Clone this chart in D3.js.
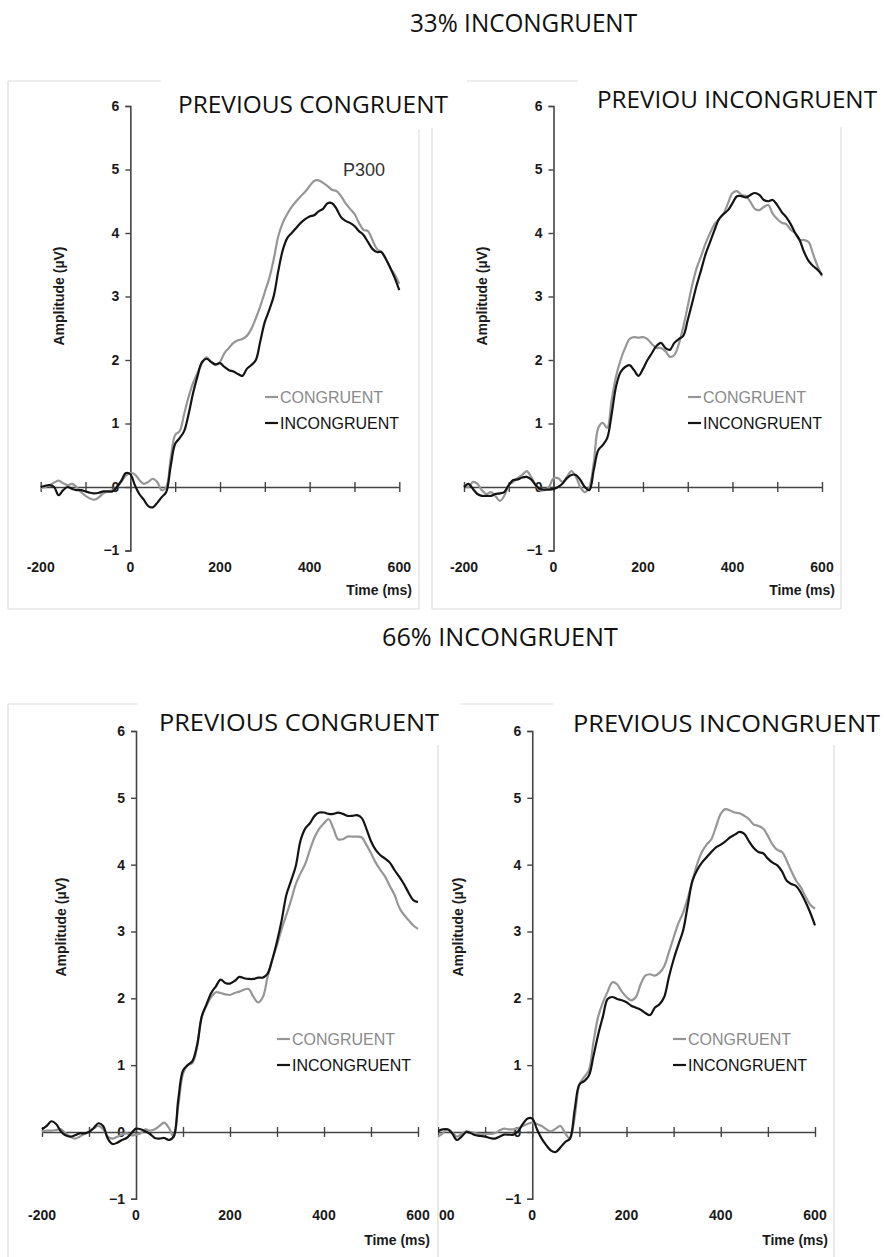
<!DOCTYPE html>
<html>
<head>
<meta charset="utf-8">
<title>P300 congruency sequence</title>
<script src="https://cdnjs.cloudflare.com/ajax/libs/d3/7.8.5/d3.min.js"></script>
<style>
  body { margin: 0; background: #fff; }
  svg text { font-family: "Liberation Sans", Arial, sans-serif; }
  .big { font-family: "Open Sans", "Noto Sans", sans-serif !important; }
</style>
</head>
<body>
<div id="chart"></div>
<script>
var W = 884, H = 1257;

// sampling grid, ms (every 10 ms, -200..600)
var times = d3.range(-200, 601, 10);
var xTicks = [-200, -100, 0, 100, 200, 300, 400, 500, 600];
var xLabels = [-200, 0, 200, 400, 600];
var yTicks = [-1, 0, 1, 2, 3, 4, 5, 6];
var seriesNames = ["CONGRUENT", "INCONGRUENT"];
var blockTitles = ["33% INCONGRUENT", "66% INCONGRUENT"];
var panelTitles = ["PREVIOUS CONGRUENT", "PREVIOU INCONGRUENT", "PREVIOUS CONGRUENT", "PREVIOUS INCONGRUENT"];

// 33% incongruent, previous congruent (amplitude, µV)
var c33pc = [-0.02,0.0,0.03,0.07,0.1,0.06,0.03,0.05,0.0,-0.08,-0.14,-0.18,-0.2,-0.16,-0.1,-0.07,-0.05,0.0,0.08,0.18,
  0.22,0.2,0.11,0.05,0.08,0.13,0.08,-0.05,0.0,0.45,0.82,0.88,1.15,1.42,1.64,1.8,1.95,2.04,1.97,1.92,
  1.97,2.11,2.19,2.27,2.31,2.33,2.38,2.49,2.66,2.85,3.07,3.29,3.59,3.95,4.16,4.3,4.41,4.5,4.58,4.65,
  4.74,4.82,4.83,4.79,4.74,4.68,4.66,4.58,4.47,4.38,4.3,4.16,4.05,4.03,3.89,3.75,3.7,3.59,3.45,3.34,3.2];
var i33pc = [0.0,0.02,0.03,0.0,-0.13,-0.05,0.0,-0.03,-0.05,-0.05,-0.07,-0.09,-0.1,-0.09,-0.07,-0.07,-0.07,0.0,0.1,0.22,
  0.2,0.03,-0.11,-0.2,-0.3,-0.32,-0.25,-0.16,-0.08,0.33,0.68,0.77,0.88,1.15,1.48,1.75,1.97,2.02,1.97,1.93,
  1.95,1.89,1.84,1.82,1.78,1.75,1.86,1.92,2.0,2.3,2.6,2.79,3.01,3.4,3.73,3.92,4.0,4.08,4.16,4.22,
  4.26,4.28,4.34,4.38,4.47,4.47,4.38,4.25,4.19,4.16,4.11,4.03,3.97,3.86,3.75,3.7,3.7,3.59,3.45,3.29,3.1];

// 33% incongruent, previous incongruent
var c33pi = [0.03,0.0,0.08,0.05,-0.05,-0.11,-0.08,-0.14,-0.22,-0.14,0.03,0.08,0.14,0.19,0.25,0.16,0.03,-0.05,-0.05,0.0,
  0.14,0.14,0.08,0.16,0.25,0.16,0.0,-0.08,0.0,0.38,0.93,1.01,0.93,1.37,1.75,2.0,2.19,2.33,2.36,2.35,
  2.36,2.33,2.25,2.19,2.19,2.14,2.05,2.08,2.25,2.52,2.85,3.18,3.45,3.64,3.84,4.0,4.14,4.22,4.3,4.47,
  4.63,4.66,4.6,4.58,4.49,4.38,4.36,4.41,4.44,4.3,4.22,4.16,4.14,4.05,4.0,3.89,3.89,3.86,3.67,3.48,3.32];
var i33pi = [0.0,0.05,-0.03,-0.11,-0.14,-0.14,-0.14,-0.11,-0.1,-0.08,0.03,0.11,0.12,0.15,0.16,0.12,0.03,-0.03,-0.04,-0.04,
  -0.03,0.0,0.05,0.14,0.19,0.19,0.11,0.0,-0.05,0.27,0.58,0.66,0.77,1.15,1.59,1.81,1.89,1.92,1.84,1.75,
  1.86,2.0,2.11,2.22,2.27,2.19,2.16,2.27,2.33,2.38,2.63,2.9,3.18,3.42,3.67,3.86,4.05,4.22,4.3,4.36,
  4.47,4.58,4.58,4.56,4.6,4.63,4.6,4.52,4.5,4.52,4.44,4.33,4.25,4.14,4.0,3.89,3.7,3.56,3.48,3.42,3.34];

// 66% incongruent, previous congruent
var c66pc = [0.01,0.02,0.02,0.03,0.04,-0.02,-0.07,-0.1,-0.07,-0.03,0.0,0.05,0.09,0.04,-0.07,-0.1,-0.07,-0.04,-0.02,-0.05,
  -0.04,-0.02,0.04,0.02,0.04,0.09,0.14,0.06,-0.07,0.39,0.87,1.0,1.03,1.27,1.73,1.89,2.02,2.09,2.08,2.06,
  2.05,2.08,2.1,2.13,2.14,2.02,1.94,2.02,2.32,2.58,2.8,3.04,3.25,3.47,3.71,3.87,4.01,4.22,4.41,4.54,
  4.62,4.68,4.54,4.38,4.38,4.42,4.42,4.42,4.41,4.3,4.17,4.03,3.92,3.82,3.68,3.55,3.36,3.25,3.17,3.09,3.04];
var i66pc = [0.04,0.09,0.16,0.12,0.01,-0.05,-0.07,-0.05,-0.02,-0.02,0.0,0.06,0.13,0.09,-0.1,-0.18,-0.16,-0.12,-0.09,-0.02,
  0.05,0.04,0.01,-0.03,-0.09,-0.1,-0.09,-0.12,-0.07,0.49,0.92,1.0,1.06,1.3,1.73,1.91,2.08,2.18,2.28,2.23,
  2.22,2.26,2.32,2.3,2.29,2.29,2.31,2.31,2.37,2.58,2.85,3.17,3.55,3.76,3.98,4.36,4.54,4.62,4.73,4.78,
  4.78,4.76,4.76,4.78,4.76,4.73,4.73,4.74,4.7,4.54,4.35,4.22,4.14,4.09,4.03,3.92,3.82,3.71,3.58,3.47,3.44];

// 66% incongruent, previous incongruent
var c66pi = [-0.07,-0.02,0.04,0.0,-0.07,-0.03,0.01,0.0,-0.02,-0.03,-0.03,-0.03,-0.02,0.02,0.05,0.04,0.04,0.06,0.09,0.12,
  0.14,0.12,0.09,0.04,0.01,0.05,0.09,-0.02,-0.1,0.22,0.71,0.82,0.92,1.35,1.73,1.94,2.1,2.24,2.21,2.1,
  2.02,1.97,2.02,2.21,2.34,2.36,2.34,2.38,2.48,2.69,2.91,3.12,3.28,3.5,3.76,4.01,4.19,4.3,4.38,4.57,
  4.76,4.83,4.81,4.78,4.77,4.73,4.68,4.6,4.58,4.54,4.43,4.3,4.22,4.19,4.06,3.9,3.76,3.66,3.52,3.4,3.34];
var i66pi = [0.01,0.04,0.04,-0.02,-0.12,-0.07,0.0,-0.02,-0.05,-0.06,-0.07,-0.09,-0.1,-0.07,-0.04,-0.04,-0.04,0.01,0.12,0.2,
  0.2,0.04,-0.1,-0.2,-0.28,-0.3,-0.23,-0.15,-0.1,0.33,0.71,0.76,0.84,1.14,1.46,1.73,1.99,2.02,1.99,1.97,
  1.94,1.89,1.86,1.83,1.78,1.75,1.86,1.91,2.02,2.32,2.58,2.8,3.01,3.39,3.76,3.92,4.03,4.11,4.19,4.26,
  4.3,4.35,4.41,4.45,4.49,4.46,4.35,4.25,4.19,4.17,4.09,4.03,3.99,3.9,3.76,3.71,3.68,3.58,3.44,3.28,3.09];

var colors = ["#969696", "#141414"];

// panel placement
var panels = [
  { title: panelTitles[0], cong: c33pc, incong: i33pc, xl: 40.7, xr: 399.3, yt: 106, yb: 550.5,
    tx: 178, tb: 113, tw: 270, legX: 265, legY: 397, ampX: 59, ampY: 296, labY: 572, timeX: 412, timeY: 595,
    p300: [364, 176], clip: null,
    frame: [[8,81,161,81],[467,81,578,81],[8,81,8,609],[8,609,419,609],[419,130,419,609]] },
  { title: panelTitles[1], cong: c33pi, incong: i33pi, xl: 464, xr: 822, yt: 106, yb: 550.5,
    tx: 597, tb: 108, tw: 280, legX: 688, legY: 397, ampX: 482, ampY: 296, labY: 572, timeX: 835, timeY: 595,
    p300: null, clip: null,
    frame: [[432,128,432,609],[432,609,841,609],[841,127,841,609]] },
  { title: panelTitles[2], cong: c66pc, incong: i66pc, xl: 42, xr: 418, yt: 731, yb: 1198.8,
    tx: 159, tb: 731, tw: 280, legX: 277, legY: 1039, ampX: 61, ampY: 927, labY: 1220, timeX: 430, timeY: 1245,
    p300: null, clip: null,
    frame: [[8,704,138,704],[460,704,553,704],[8,704,8,1257],[438,745,438,1257]] },
  { title: panelTitles[3], cong: c66pi, incong: i66pi, xl: 438, xr: 815, yt: 731, yb: 1198.8,
    tx: 573, tb: 732, tw: 307, legX: 673, legY: 1039, ampX: 458, ampY: 927, labY: 1220, timeX: 828, timeY: 1245,
    p300: null, clip: [438, 690, 400, 567],
    frame: [[834,745,834,1257]] }
];

var svg = d3.select("#chart").append("svg")
  .attr("width", W).attr("height", H)
  .attr("xmlns", "http://www.w3.org/2000/svg");

svg.append("rect").attr("width", W).attr("height", H).attr("fill", "#fff");

// block headings
svg.append("text").attr("class", "big")
  .attr("x", 410).attr("y", 32).attr("textLength", 227).attr("lengthAdjust", "spacingAndGlyphs")
  .attr("font-size", 25).attr("fill", "#111").text(blockTitles[0]);
svg.append("text").attr("class", "big")
  .attr("x", 382).attr("y", 646).attr("textLength", 236).attr("lengthAdjust", "spacingAndGlyphs")
  .attr("font-size", 25).attr("fill", "#111").text(blockTitles[1]);

panels.forEach(function(p, k) {
  var g = svg.append("g");

  // frame pieces (pasted-image borders)
  p.frame.forEach(function(s) {
    svg.append("line").attr("x1", s[0]).attr("y1", s[1]).attr("x2", s[2]).attr("y2", s[3])
      .attr("stroke", "#dcdcdc").attr("stroke-width", 1.2);
  });

  if (p.clip) {
    svg.append("clipPath").attr("id", "clip" + k).append("rect")
      .attr("x", p.clip[0]).attr("y", p.clip[1]).attr("width", p.clip[2]).attr("height", p.clip[3]);
    g.attr("clip-path", "url(#clip" + k + ")");
  }

  var x = d3.scaleLinear().domain([-200, 600]).range([p.xl, p.xr]);
  var y = d3.scaleLinear().domain([-1, 6]).range([p.yb, p.yt]);

  // y axis
  var yAxis = d3.axisLeft(y).tickValues(yTicks).tickSize(5).tickPadding(6).tickFormat(d3.format("d"));
  var ya = g.append("g").attr("transform", "translate(" + x(0) + ",0)").call(yAxis);
  ya.select(".domain").attr("stroke", "#444").attr("stroke-width", 1.6);
  ya.selectAll(".tick line").attr("stroke", "#444").attr("stroke-width", 1.4);
  ya.selectAll(".tick text").attr("font-size", 14).attr("font-weight", "bold").attr("fill", "#1a1a1a")
    .attr("font-family", "Liberation Sans, Arial, sans-serif");

  // x axis along zero, ticks crossing the line
  var xa = g.append("g").attr("transform", "translate(0," + y(0) + ")")
    .call(d3.axisBottom(x).tickValues(xTicks).tickSize(0).tickFormat(""));
  xa.select(".domain").attr("stroke", "#444").attr("stroke-width", 1.6);
  xa.selectAll(".tick line").attr("y1", -5).attr("y2", 5).attr("stroke", "#444").attr("stroke-width", 1.4);

  // tick labels; on the clipped panel the first label is hidden under the
  // neighbouring image, so only its visible part is written, left-aligned at the edge
  g.selectAll(".xlab").data(xLabels).enter().append("text")
    .attr("x", function(d) { return (p.clip && d === -200) ? p.clip[0] + 1 : x(d); })
    .attr("y", p.labY)
    .attr("text-anchor", function(d) { return (p.clip && d === -200) ? "start" : "middle"; })
    .attr("font-size", 14).attr("font-weight", "bold").attr("fill", "#1a1a1a")
    .text(function(d) { return (p.clip && d === -200) ? String(d).slice(2) : d; });

  g.append("text").attr("x", p.timeX).attr("y", p.timeY).attr("text-anchor", "end")
    .attr("font-size", 14).attr("font-weight", "bold").attr("fill", "#1a1a1a").text("Time (ms)");

  g.append("text").attr("transform", "translate(" + (p.ampX + 5) + "," + p.ampY + ") rotate(-90)")
    .attr("text-anchor", "middle").attr("font-size", 14).attr("font-weight", "bold").attr("fill", "#1a1a1a")
    .text("Amplitude (µV)");

  // waveforms
  var line = d3.line()
    .x(function(d, i) { return x(times[i]); })
    .y(function(d) { return y(d); })
    .curve(d3.curveCatmullRom.alpha(0.5));
  [p.cong, p.incong].forEach(function(s, j) {
    g.append("path").datum(s).attr("d", line).attr("fill", "none")
      .attr("stroke", colors[j]).attr("stroke-width", 2.2).attr("stroke-linejoin", "round");
  });

  // legend
  seriesNames.forEach(function(n, j) {
    var ly = p.legY + j * 26;
    g.append("line").attr("x1", p.legX).attr("x2", p.legX + 13).attr("y1", ly).attr("y2", ly)
      .attr("stroke", colors[j]).attr("stroke-width", 2.2);
    g.append("text").attr("x", p.legX + 15).attr("y", ly + 6)
      .attr("font-size", 16).attr("fill", j === 0 ? "#8a8a8a" : "#111").text(n);
  });

  if (p.p300) {
    g.append("text").attr("x", p.p300[0]).attr("y", p.p300[1]).attr("text-anchor", "middle")
      .attr("font-size", 18).attr("fill", "#333").text("P300");
  }

  // panel heading
  svg.append("text").attr("class", "big").attr("x", p.tx).attr("y", p.tb)
    .attr("textLength", p.tw).attr("lengthAdjust", "spacingAndGlyphs")
    .attr("font-size", 24).attr("fill", "#111").text(p.title);
});
</script>
</body>
</html>
